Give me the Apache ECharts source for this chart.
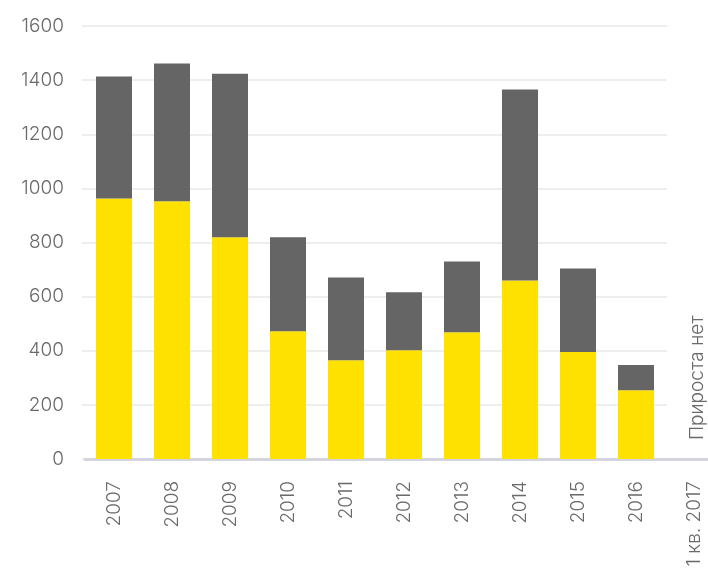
<!DOCTYPE html>
<html lang="ru">

<head>
    <meta charset="UTF-8">
    <title>Прирост</title>
    <script type="text/javascript" src="https://cdn.jsdelivr.net/npm/echarts/dist/echarts.min.js"></script>
    <style>
        html, body {
            margin: 0;
            padding: 0;
            background: #fff;
        }

        #main {
            width: 708px;
            height: 583px;
        }
    </style>
</head>

<body>
    <div id="main"></div>
    <script>
        // data
        var years = ['2007', '2008', '2009', '2010', '2011', '2012', '2013', '2014', '2015', '2016', '1 кв. 2017'];
        var yellowPart = [963, 952, 819, 472, 365, 402, 468, 660, 395, 254, null];
        var grayPart = [450, 509, 605, 347, 306, 214, 262, 705, 309, 93, null];
        var yTicks = [0, 200, 400, 600, 800, 1000, 1200, 1400, 1600];
        var noGrowthText = 'Прироста нет';

        var labelFont = {
            color: '#6a6a6a',
            fontSize: 19,
            fontFamily: 'Inter',
            fontWeight: 300
        };

        var chart = echarts.init(document.getElementById('main'));
        var option = {
            animation: false,
            grid: [
                // grid 0 only carries the y labels and the gridlines
                { left: 82, right: 41, top: 26, bottom: 124, outerBoundsMode: 'none' },
                // grid 1 carries the bars; it runs past the right edge
                { left: 85, width: 638, top: 26, bottom: 124, outerBoundsMode: 'none' }
            ],
            xAxis: [
                { gridIndex: 0, type: 'category', data: years, show: false },
                {
                    gridIndex: 1,
                    type: 'category',
                    data: years,
                    axisLine: { lineStyle: { color: '#d4d4de', width: 3 } },
                    axisTick: { show: false },
                    axisLabel: Object.assign({ rotate: 90, margin: 22, interval: 0 }, labelFont)
                }
            ],
            yAxis: [
                {
                    gridIndex: 0,
                    type: 'value',
                    min: yTicks[0],
                    max: yTicks[yTicks.length - 1],
                    interval: 200,
                    axisLine: { show: false },
                    axisTick: { show: false },
                    axisLabel: Object.assign({
                        margin: 18,
                        formatter: function (v) { return String(v); }
                    }, labelFont),
                    splitLine: { lineStyle: { color: '#eeeeee', width: 2 } }
                },
                {
                    gridIndex: 1,
                    type: 'value',
                    min: yTicks[0],
                    max: yTicks[yTicks.length - 1],
                    interval: 200,
                    show: false,
                    splitLine: { show: false }
                }
            ],
            series: [
                {
                    type: 'bar',
                    xAxisIndex: 1,
                    yAxisIndex: 1,
                    stack: 'total',
                    barWidth: 36,
                    itemStyle: { color: '#ffe100' },
                    data: yellowPart
                },
                {
                    type: 'bar',
                    xAxisIndex: 1,
                    yAxisIndex: 1,
                    stack: 'total',
                    barWidth: 36,
                    itemStyle: { color: '#656565' },
                    data: grayPart
                }
            ],
            graphic: [
                {
                    type: 'text',
                    x: 697,
                    y: 440,
                    rotation: Math.PI / 2,
                    style: {
                        text: noGrowthText,
                        fill: '#6a6a6a',
                        fontSize: 19,
                        fontFamily: 'Inter',
                        fontWeight: 300,
                        verticalAlign: 'middle',
                        align: 'left'
                    }
                }
            ]
        };
        chart.setOption(option);
    </script>
</body>

</html>
